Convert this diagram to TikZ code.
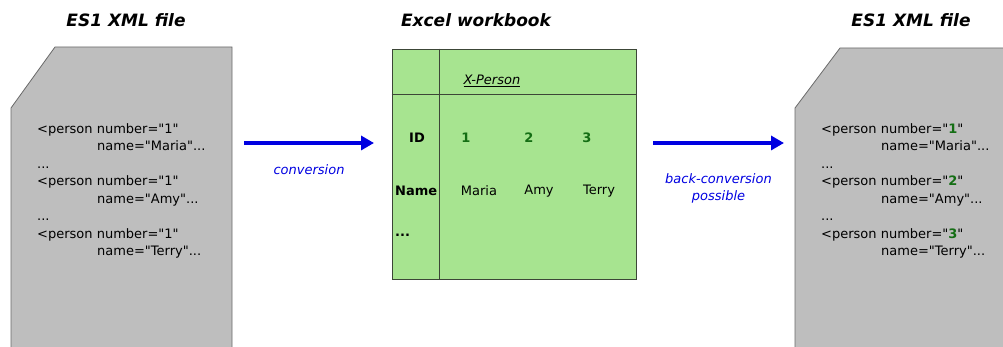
\documentclass[tikz,border=0pt]{standalone}
\usepackage{fontspec}
\setmainfont{DejaVu Sans}[Ligatures=TeXOff]
\usepackage{tikz}
\usetikzlibrary{arrows.meta, positioning, calc}
\definecolor{docgray}{RGB}{190,190,190}
\definecolor{docedge}{RGB}{105,105,105}
\definecolor{sheetgreen}{RGB}{167,228,144}
\definecolor{sheetedge}{RGB}{60,70,55}
\definecolor{convblue}{RGB}{0,0,225}
\definecolor{idgreen}{RGB}{20,110,20}
\newcommand{\gnum}[1]{\textcolor{idgreen}{\textbf{#1}}}
\tikzset{
  titlelabel/.style={font=\fontsize{17}{19}\selectfont\bfseries\itshape, inner sep=0pt},
  docshape/.style={draw=docedge, fill=docgray, line width=0.8pt},
  doctext/.style={align=left, anchor=north west, inner sep=0pt, font=\fontsize{13}{17.5}\selectfont},
  sheetbox/.style={rectangle, draw=sheetedge, fill=sheetgreen, line width=0.8pt,
    minimum width=244pt, minimum height=230pt, inner sep=0pt},
  cellline/.style={draw=sheetedge, line width=0.8pt},
  celltext/.style={font=\fontsize{13}{15}\selectfont, inner sep=0pt},
  celllead/.style={celltext, font=\fontsize{13}{15}\selectfont\bfseries, anchor=west},
  idnum/.style={celltext, font=\fontsize{13}{15}\selectfont\bfseries, text=idgreen},
  convarrow/.style={-{Triangle[length=13pt,width=14pt]}, line width=3.6pt, color=convblue},
  convlabel/.style={font=\fontsize{13}{17}\selectfont\itshape, text=convblue, align=center, inner sep=0pt}
}
\begin{document}
\begin{tikzpicture}[x=1pt, y=1pt]
  \useasboundingbox (0,0) rectangle (1003,347);

  % source file
  \draw[docshape] (11,-5) -- (11,239) -- (55,300) -- (232,300) -- (232,-5) -- cycle;
  \node[titlelabel] (srctitle) at (126,327) {ES1 XML file};
  \node[doctext] (srctext) at (37,224)
    {<person number="1"\\\hspace*{60pt}name="Maria"...\\...\\
     <person number="1"\\\hspace*{60pt}name="Amy"...\\...\\
     <person number="1"\\\hspace*{60pt}name="Terry"...};

  % workbook
  \node[sheetbox] (sheet) at (514,183) {};
  \node[titlelabel] (booktitle) at (476,327) {Excel workbook};
  \draw[cellline] (439,0 |- sheet.north) -- (439,0 |- sheet.south);
  \draw[cellline] (sheet.west |- 0,253) -- (sheet.east |- 0,253);
  \node[celltext] (xperson) at (492,266) {\underline{\textit{X-Person}}};
  \node[celltext, font=\fontsize{13}{15}\selectfont\bfseries] (idhead) at (417,209) {ID};
  \node[idnum] (id1) at (466,209) {1};
  \node[idnum] (id2) at (529,209) {2};
  \node[idnum] (id3) at (587,209) {3};
  \node[celllead] (namehead) at (395,156) {Name};
  \node[celltext] (name1) at (479,156) {Maria};
  \node[celltext] (name2) at (539,156) {Amy};
  \node[celltext] (name3) at (599,156) {Terry};
  \node[celllead] (morehead) at (395,112) {...};

  % target file
  \draw[docshape] (795,-5) -- (795,239) -- (840,299) -- (1010,299) -- (1010,-5) -- cycle;
  \node[titlelabel] (dsttitle) at (911,327) {ES1 XML file};
  \node[doctext] (dsttext) at (821,224)
    {<person number="\gnum{1}"\\\hspace*{60pt}name="Maria"...\\...\\
     <person number="\gnum{2}"\\\hspace*{60pt}name="Amy"...\\...\\
     <person number="\gnum{3}"\\\hspace*{60pt}name="Terry"...};

  % arrows
  \coordinate (convfrom) at (244,204);
  \coordinate (convto) at (374,204);
  \coordinate (backfrom) at (653,204);
  \coordinate (backto) at (784,204);
  \draw[convarrow] (convfrom) -- node[convlabel, below=20pt] (convtext) {conversion} (convto);
  \draw[convarrow] (backfrom) -- node[convlabel, below=29pt] (backtext) {back-conversion\\possible} (backto);
\end{tikzpicture}
\end{document}
